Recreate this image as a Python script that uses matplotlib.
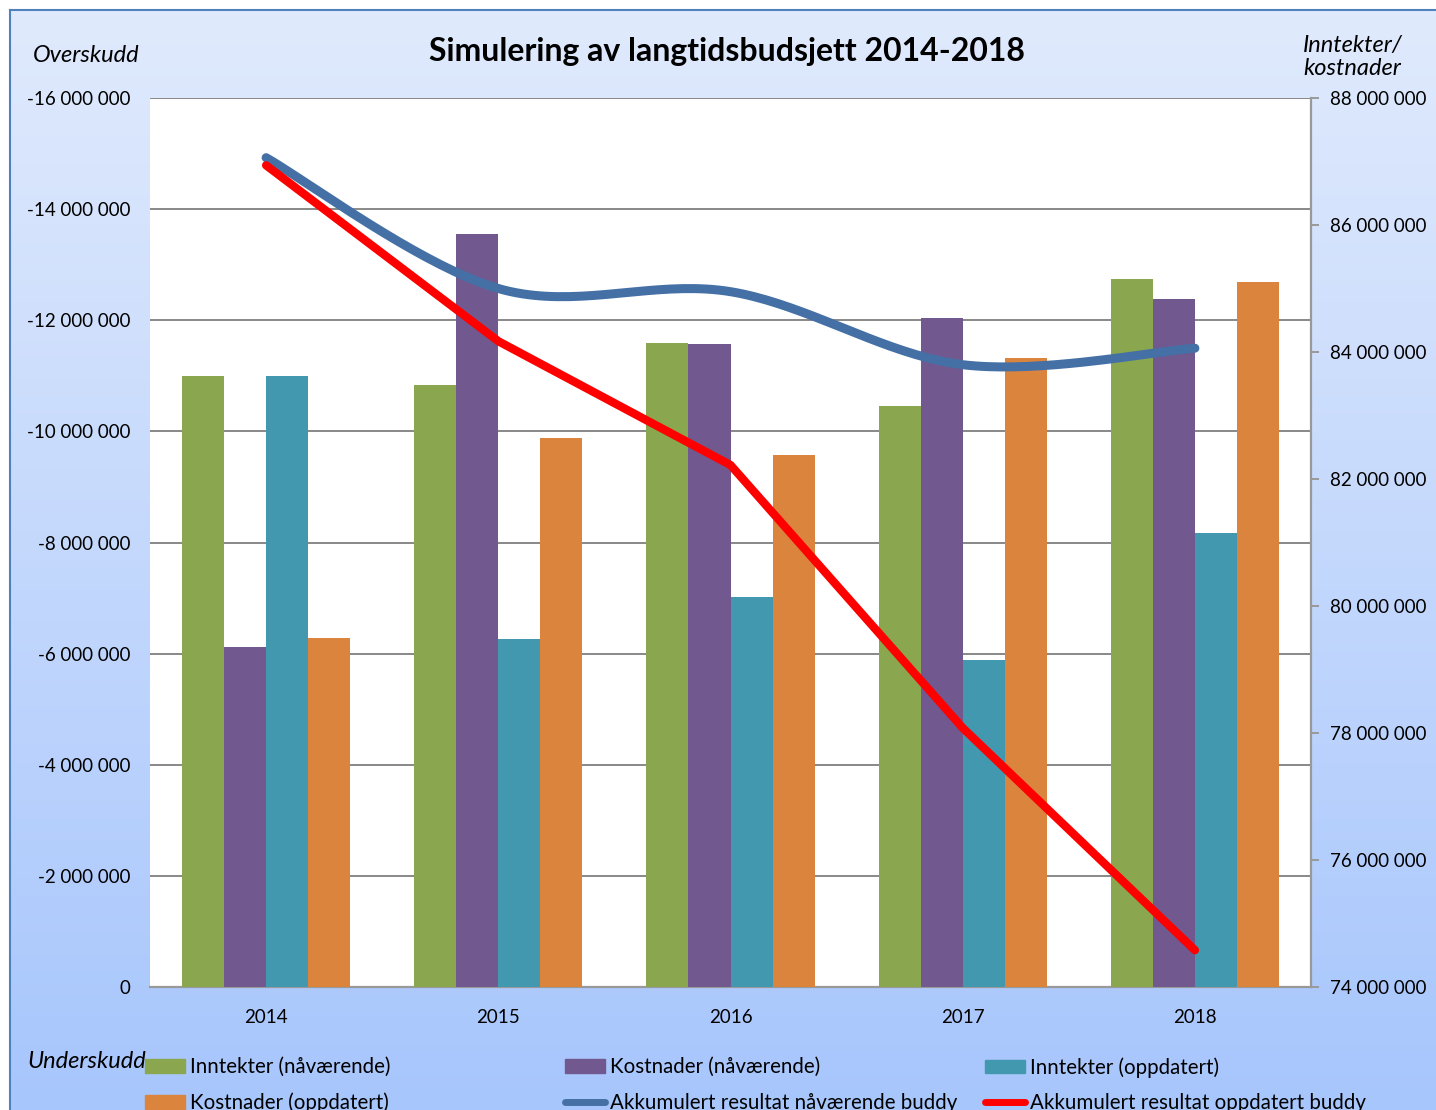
import numpy as np
import matplotlib
matplotlib.use('Agg')
import matplotlib.pyplot as plt
from matplotlib.patches import Patch
from matplotlib.lines import Line2D
from matplotlib.ticker import FuncFormatter

plt.rcParams['font.family'] = ['Lato', 'DejaVu Sans']

# data
years = ['2014', '2015', '2016', '2017', '2018']
inntekter_naa = [-11.00e6, -10.84e6, -11.59e6, -10.46e6, -12.74e6]
kostnader_naa = [-6.12e6, -13.55e6, -11.57e6, -12.04e6, -12.38e6]
inntekter_opp = [-11.00e6, -6.26e6, -7.02e6, -5.89e6, -8.17e6]
kostnader_opp = [-6.28e6, -9.88e6, -9.58e6, -11.32e6, -12.69e6]
akk_naa = [87.06e6, 85.00e6, 84.95e6, 83.80e6, 84.06e6]
akk_opp = [86.94e6, 84.17e6, 82.22e6, 78.08e6, 74.58e6]

bar_series = [
    ('Inntekter (nåværende)', inntekter_naa, '#8AA64E'),
    ('Kostnader (nåværende)', kostnader_naa, '#71588F'),
    ('Inntekter (oppdatert)', inntekter_opp, '#4298AF'),
    ('Kostnader (oppdatert)', kostnader_opp, '#DB843D'),
]
blue = '#4470A6'
red = '#FF0000'


def smooth(xs, ys, n=40):
    # Excel-style smoothed line (Catmull-Rom / Bezier through the points)
    px = np.concatenate([[xs[0]], xs, [xs[-1]]])
    py = np.concatenate([[ys[0]], ys, [ys[-1]]])
    outx, outy = [], []
    t = np.linspace(0, 1, n)
    for i in range(1, len(px) - 2):
        p0 = np.array([px[i], py[i]])
        p3 = np.array([px[i + 1], py[i + 1]])
        c1 = p0 + (p3 - np.array([px[i - 1], py[i - 1]])) / 6
        c2 = p3 - (np.array([px[i + 2], py[i + 2]]) - p0) / 6
        b = ((1 - t) ** 3)[:, None] * p0 + (3 * (1 - t) ** 2 * t)[:, None] * c1 \
            + (3 * (1 - t) * t ** 2)[:, None] * c2 + (t ** 3)[:, None] * p3
        outx.extend(b[:, 0])
        outy.extend(b[:, 1])
    return np.array(outx), np.array(outy)


W, H = 1436, 1110
fig = plt.figure(figsize=(W / 100, H / 100), dpi=100, facecolor='white')

# background gradient panel
bg = fig.add_axes([10 / W, 0, 1 - 10 / W, 1 - 10 / H], zorder=-10)
top = np.array([224, 234, 252]) / 255
bot = np.array([167, 198, 253]) / 255
grad = np.linspace(0, 1, 256)[:, None, None] * (bot - top) + top
bg.imshow(grad, aspect='auto', extent=[0, 1, 0, 1])
bg.set_xticks([])
bg.set_yticks([])
for s in ['right', 'bottom']:
    bg.spines[s].set_visible(False)
for s in ['left', 'top']:
    bg.spines[s].set_color('#4F81BD')
    bg.spines[s].set_linewidth(1.5)

ax = fig.add_axes([150 / W, 1 - 987 / H, (1311 - 150) / W, (987 - 98) / H])
ax.set_facecolor('white')
x = np.arange(len(years))
w = 0.181
for k, (lab, vals, col) in enumerate(bar_series):
    ax.bar(x + (k - 1.5) * w, vals, width=w, color=col, label=lab, zorder=3)

ax.set_xlim(-0.5, len(years) - 0.5)
ax.set_ylim(0, -16e6)
ax.set_yticks(np.arange(0, -16.1e6, -2e6))
ax.yaxis.set_major_formatter(FuncFormatter(lambda v, p: f'{v:,.0f}'.replace(',', ' ')))
ax.set_xticks(x)
ax.set_xticklabels(years)
ax.tick_params(axis='both', length=0, labelsize=13.5)
ax.tick_params(axis='y', pad=14)
ax.tick_params(axis='x', pad=16)
ax.grid(axis='y', color='#888888', linewidth=1.4, zorder=0)
ax.set_axisbelow(True)
for s in ['left', 'top', 'right']:
    ax.spines[s].set_visible(False)
ax.spines['bottom'].set_color('#999999')
ax.spines['bottom'].set_linewidth(1.6)

ax2 = ax.twinx()
ax2.set_ylim(74e6, 88e6)
ax2.set_yticks(np.arange(74e6, 88.1e6, 2e6))
ax2.yaxis.set_major_formatter(FuncFormatter(lambda v, p: f'{v:,.0f}'.replace(',', ' ')))
ax2.tick_params(axis='y', length=6, width=1.4, color='#999999', labelsize=13.5, pad=8)
for s in ['left', 'top', 'bottom']:
    ax2.spines[s].set_visible(False)
ax2.spines['right'].set_color('#999999')
ax2.spines['right'].set_linewidth(1.6)

sx, sy = smooth(x.astype(float), np.array(akk_naa))
ax2.plot(sx, sy, color=blue, linewidth=6.5, solid_capstyle='round', zorder=4)
ax2.plot(x, akk_opp, color=red, linewidth=6, solid_capstyle='round',
         solid_joinstyle='round', zorder=5)

fig.text(727 / W, 1 - 52 / H, 'Simulering av langtidsbudsjett 2014-2018',
         ha='center', va='center', fontsize=23, fontweight='bold')
fig.text(33 / W, 1 - 56 / H, 'Overskudd', ha='left', va='center',
         fontsize=17, style='italic')
fig.text(1303 / W, 1 - 57 / H, 'Inntekter/\nkostnader', ha='left', va='center',
         fontsize=17, style='italic', linespacing=1.1)
fig.text(27 / W, 1 - 1061 / H, 'Underskudd', ha='left', va='center',
         fontsize=17, style='italic')

# legend: three columns of two entries each
handles = [Patch(color=c) for _, _, c in bar_series]
handles += [Line2D([0], [0], color=blue, linewidth=5, solid_capstyle='round'),
            Line2D([0], [0], color=red, linewidth=5, solid_capstyle='round')]
labels = [b[0] for b in bar_series] + ['Akkumulert resultat nåværende buddy',
                                        'Akkumulert resultat oppdatert buddy']
cols = [(145, [0, 3]), (565, [1, 4]), (985, [2, 5])]
for xpos, idx in cols:
    leg = fig.legend([handles[i] for i in idx], [labels[i] for i in idx],
                     loc='upper left', bbox_to_anchor=(xpos / W, 1 - 1057 / H),
                     frameon=False, fontsize=14.8, handlelength=1.95,
                     handleheight=0.65, handletextpad=0.25, labelspacing=0.76,
                     borderpad=0, borderaxespad=0)

fig.savefig('out.png', dpi=100, facecolor=fig.get_facecolor())
